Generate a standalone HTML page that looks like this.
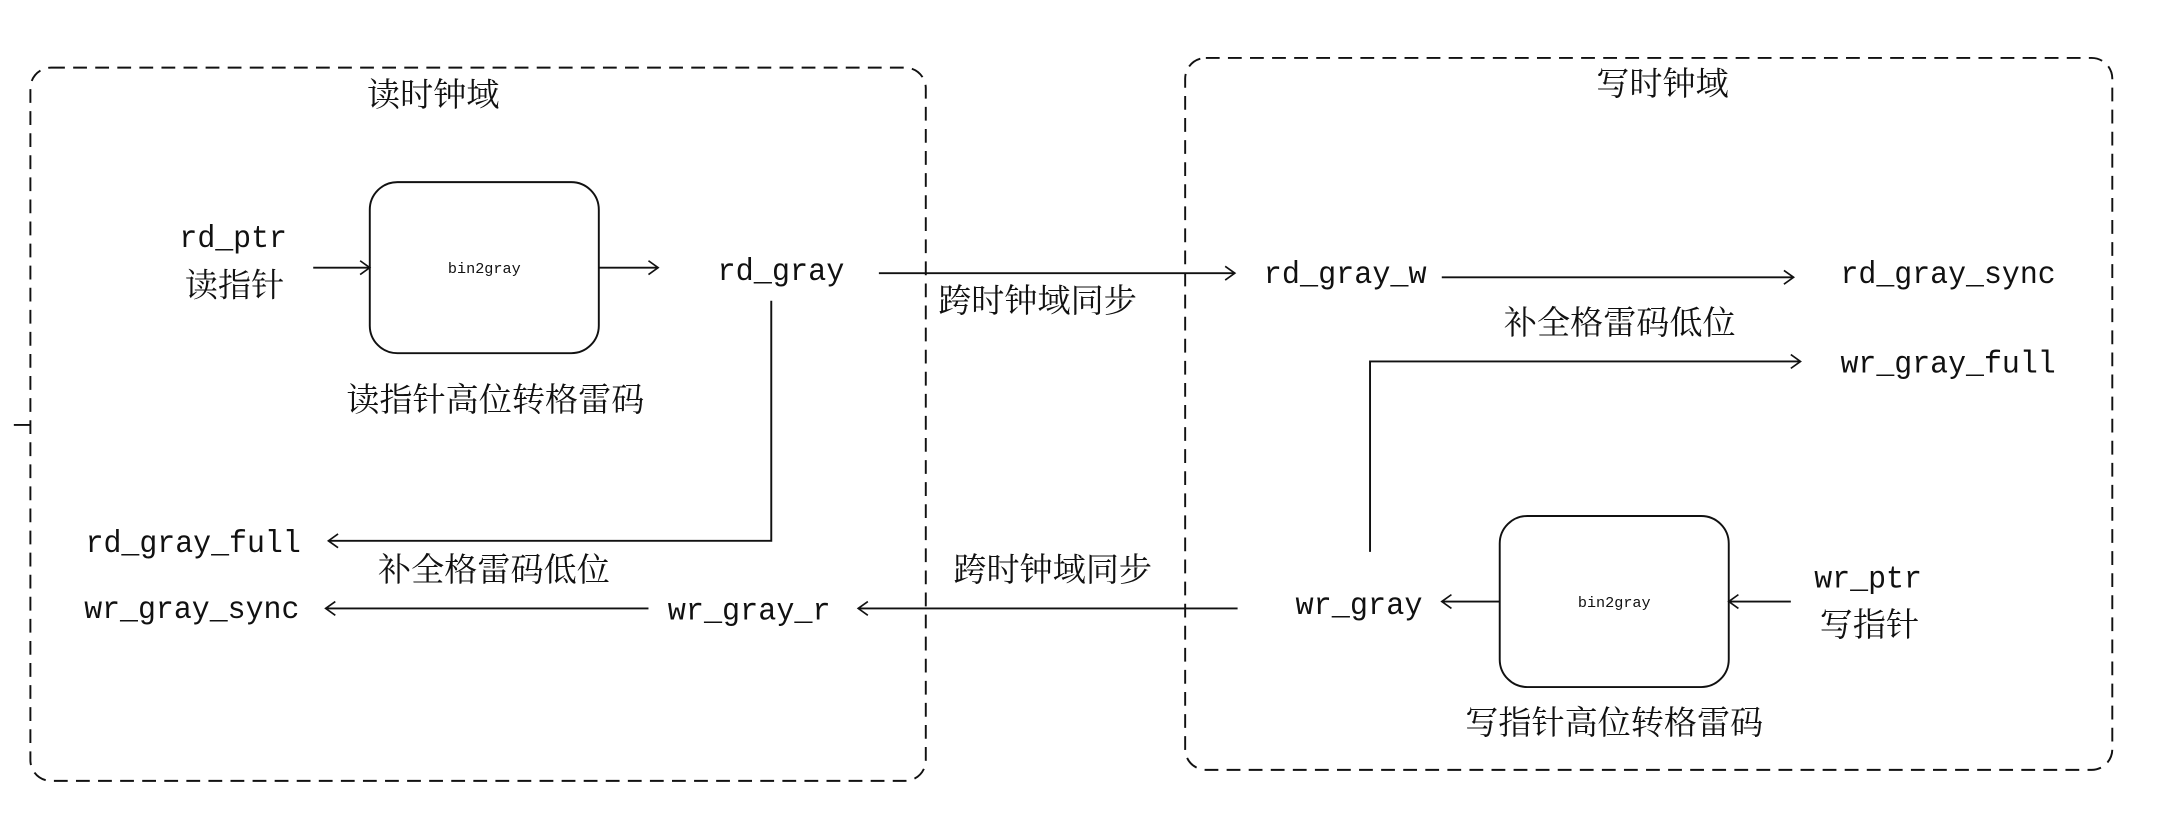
<!DOCTYPE html>
<html><head><meta charset="utf-8"><style>
html,body{margin:0;padding:0;background:#fff;}
svg{display:block}
.l{font-family:"Liberation Mono","Noto Serif CJK SC",monospace;font-size:23px;fill:#111}
.c{font-family:"Liberation Serif","Noto Serif CJK SC",serif;font-size:24px;fill:#111}
.s{font-family:"Liberation Mono",monospace;font-size:11px;fill:#111}
</style></head><body>
<svg width="2162" height="814" viewBox="0 0 1567 590" xmlns="http://www.w3.org/2000/svg">
<defs><marker id="a" markerWidth="12" markerHeight="12" refX="10" refY="6" orient="auto" markerUnits="userSpaceOnUse"><path d="M3,1 L10,6 L3,11" fill="none" stroke="#111" stroke-width="1.2"/></marker></defs>
<g fill="none" stroke="#111" stroke-width="1.4">
<rect x="22" y="49" width="649" height="517" rx="15" stroke-dasharray="10,6"/>
<rect x="859" y="42" width="672" height="516" rx="15" stroke-dasharray="10,6"/>
<line x1="10" y1="308" x2="22" y2="308"/>
<rect x="268" y="132" width="166" height="124" rx="20"/>
<rect x="1087" y="374" width="166" height="124" rx="20"/>
<line x1="227" y1="194" x2="268" y2="194" marker-end="url(#a)"/>
<line x1="434" y1="194" x2="477" y2="194" marker-end="url(#a)"/>
<line x1="637" y1="198" x2="895" y2="198" marker-end="url(#a)"/>
<line x1="1045" y1="201" x2="1300" y2="201" marker-end="url(#a)"/>
<polyline points="993,400 993,262 1305,262" marker-end="url(#a)"/>
<line x1="1298" y1="436" x2="1253" y2="436" marker-end="url(#a)"/>
<line x1="1087" y1="436" x2="1045" y2="436" marker-end="url(#a)"/>
<line x1="897" y1="441" x2="622" y2="441" marker-end="url(#a)"/>
<line x1="470" y1="441" x2="236" y2="441" marker-end="url(#a)"/>
<polyline points="559,218 559,392 238,392" marker-end="url(#a)"/>
</g>
<g text-anchor="middle">
<text class="c" x="314" y="77">读时钟域</text>
<text class="c" x="1205" y="69">写时钟域</text>
<text class="s" x="351" y="198">bin2gray</text>
<text class="s" x="1170" y="440">bin2gray</text>
<text class="l" x="169" y="179" textLength="78" lengthAdjust="spacingAndGlyphs">rd_ptr</text>
<text class="c" x="170" y="215">读指针</text>
<text class="l" x="566" y="203" textLength="92" lengthAdjust="spacingAndGlyphs">rd_gray</text>
<text class="c" x="752" y="226">跨时钟域同步</text>
<text class="l" x="975" y="205" textLength="118" lengthAdjust="spacingAndGlyphs">rd_gray_w</text>
<text class="l" x="1412" y="205" textLength="156" lengthAdjust="spacingAndGlyphs">rd_gray_sync</text>
<text class="c" x="1174" y="242">补全格雷码低位</text>
<text class="l" x="1412" y="270" textLength="156" lengthAdjust="spacingAndGlyphs">wr_gray_full</text>
<text class="c" x="359" y="298">读指针高位转格雷码</text>
<text class="l" x="140" y="400" textLength="156" lengthAdjust="spacingAndGlyphs">rd_gray_full</text>
<text class="c" x="358" y="421">补全格雷码低位</text>
<text class="c" x="763" y="421">跨时钟域同步</text>
<text class="l" x="139" y="448" textLength="156" lengthAdjust="spacingAndGlyphs">wr_gray_sync</text>
<text class="l" x="543" y="449" textLength="118" lengthAdjust="spacingAndGlyphs">wr_gray_r</text>
<text class="l" x="985" y="445" textLength="92" lengthAdjust="spacingAndGlyphs">wr_gray</text>
<text class="l" x="1354" y="426" textLength="78" lengthAdjust="spacingAndGlyphs">wr_ptr</text>
<text class="c" x="1355" y="461">写指针</text>
<text class="c" x="1170" y="532">写指针高位转格雷码</text>
</g>
</svg>
</body></html>
